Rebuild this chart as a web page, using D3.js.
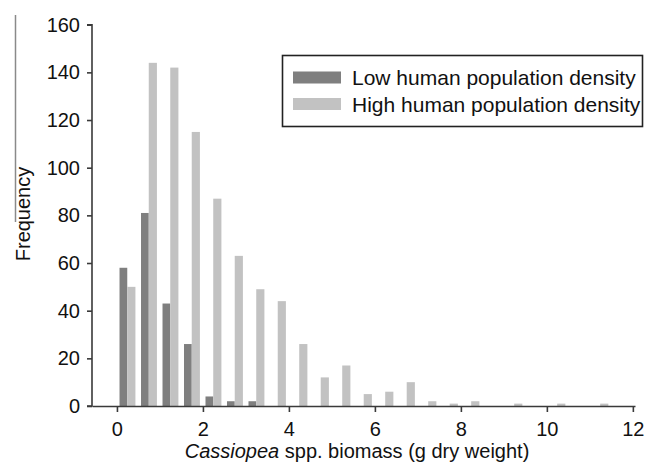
<!DOCTYPE html>
<meta charset="utf-8">
<style>
body { margin: 0; background: #fff; }
text { font-family: "Liberation Sans", Arial, sans-serif; fill: #111; }
</style>
<body>
<script src="https://cdn.jsdelivr.net/npm/d3@7"></script>
<script>

// histogram bins, 0.5 g wide
var binStarts = [0, 0.5, 1, 1.5, 2, 2.5, 3, 3.5, 4, 4.5, 5, 5.5,
                 6, 6.5, 7, 7.5, 8, 8.5, 9, 9.5, 10, 10.5, 11, 11.5];
var lowDensity  = [58, 81, 43, 26, 4, 2, 2, 0, 0, 0, 0, 0,
                   0, 0, 0, 0, 0, 0, 0, 0, 0, 0, 0, 0];
var highDensity = [50, 144, 142, 115, 87, 63, 49, 44, 26, 12, 17, 5,
                   6, 10, 2, 1, 2, 0, 1, 0, 1, 0, 1, 0];
var xTicks = [0, 2, 4, 6, 8, 10, 12];
var yTicks = [0, 20, 40, 60, 80, 100, 120, 140, 160];
var seriesNames = ["Low human population density", "High human population density"];
var seriesColors = ["#7f7f7f", "#c2c2c2"];

const width = 645, height = 466;

var xScale = d3.scaleLinear().domain([-0.58, 12.05]).range([92, 635]);
var yScale = d3.scaleLinear().domain([0, 160]).range([406, 24.7]);

var svg = d3.select("body").append("svg")
   .attr("width", width)
   .attr("height", height);

// stray scan line at the left edge of the original figure
svg.append("line")
   .attr("x1", 15.5).attr("x2", 15.5)
   .attr("y1", 15).attr("y2", 222)
   .attr("stroke", "#8a8a8a").attr("stroke-width", 1.5);

// bars
var rows = binStarts.map((b,i) => ({b: b, low: lowDensity[i], high: highDensity[i]}));

svg.selectAll(".lowBar")
   .data(rows.filter(d => d.low > 0))
   .enter().append("rect")
   .classed("lowBar", true)
   .attr("x", d => xScale(d.b + 0.06))
   .attr("width", d => xScale(d.b + 0.24) - xScale(d.b + 0.06))
   .attr("y", d => yScale(d.low))
   .attr("height", d => yScale(0) - yScale(d.low))
   .attr("fill", seriesColors[0]);

svg.selectAll(".highBar")
   .data(rows.filter(d => d.high > 0))
   .enter().append("rect")
   .classed("highBar", true)
   .attr("x", d => xScale(d.b + 0.24))
   .attr("width", d => xScale(d.b + 0.43) - xScale(d.b + 0.24))
   .attr("y", d => yScale(d.high))
   .attr("height", d => yScale(0) - yScale(d.high))
   .attr("fill", seriesColors[1]);

// axes
var yAxis = d3.axisLeft(yScale).tickValues(yTicks).tickSize(5).tickPadding(7);
var gy = svg.append("g").attr("transform", `translate(${xScale.range()[0]},0)`).call(yAxis);

var xAxis = d3.axisBottom(xScale).tickValues(xTicks).tickSize(6).tickPadding(10).tickSizeOuter(0);
var gx = svg.append("g").attr("transform", `translate(0,${yScale(0)})`).call(xAxis);

[gx, gy].forEach(g => {
  g.select(".domain").attr("stroke", "#3a3a3a").attr("stroke-width", 1.6);
  g.selectAll(".tick line").attr("stroke", "#3a3a3a").attr("stroke-width", 1.6);
  g.selectAll(".tick text")
   .style("font-family", "'Liberation Sans', Arial, sans-serif")
   .style("font-size", "20px")
   .attr("fill", "#111");
});
gy.select(".domain").attr("d", `M-5,${yScale(160)}H0V${yScale(0)}H-5`);

// axis titles
var xTitle = svg.append("text")
   .attr("x", 357).attr("y", 458)
   .attr("text-anchor", "middle")
   .style("font-size", "20px");
xTitle.append("tspan").style("font-style", "italic").text("Cassiopea");
xTitle.append("tspan").text(" spp. biomass (g dry weight)");

svg.append("text")
   .attr("transform", "translate(30,214) rotate(-90)")
   .attr("text-anchor", "middle")
   .style("font-size", "20px")
   .text("Frequency");

// legend
var legend = svg.append("g");
legend.append("rect")
   .attr("x", 282.5).attr("y", 55.5)
   .attr("width", 360).attr("height", 71)
   .attr("fill", "white")
   .attr("stroke", "#222").attr("stroke-width", 1.6);

var items = legend.selectAll(".item")
   .data(seriesNames)
   .enter().append("g")
   .attr("transform", (d,i) => `translate(0,${77.5 + i*26.5})`);

items.append("rect")
   .attr("x", 293).attr("y", -6)
   .attr("width", 48).attr("height", 12)
   .attr("fill", (d,i) => seriesColors[i]);

items.append("text")
   .attr("x", 352).attr("y", 7.5)
   .style("font-size", "21px")
   .text(d => d);

</script>
</body>
